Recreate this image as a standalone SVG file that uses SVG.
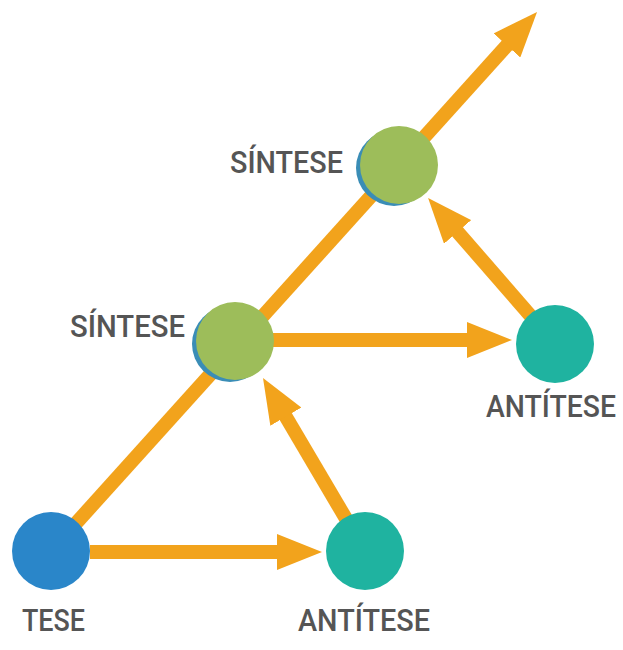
<svg xmlns="http://www.w3.org/2000/svg" width="623" height="650" viewBox="0 0 623 650">
  <style>
    .flow { stroke: #f2a31c; stroke-width: 14; fill: none; stroke-linecap: butt; }
    .label { font-family: "Roboto", "Liberation Sans", sans-serif; font-size: 32px; font-weight: 500; fill: #555555; }
    .tese { fill: #2a86c9; }
    .antitese { fill: #1fb3a0; }
    .sintese { fill: #9dbd5a; }
    .shade { fill: #3a8db6; }
  </style>
  <defs>
    <marker id="head" markerUnits="userSpaceOnUse" viewBox="0 0 45 36" markerWidth="45" markerHeight="36" refX="20" refY="18" orient="auto">
      <path d="M0,0 L45,18 L0,36 Z" fill="#f2a31c"/>
    </marker>
  </defs>

  <rect x="0" y="0" width="623" height="650" fill="#ffffff"/>

  <!-- connectors -->
  <g id="connectors">
    <!-- main progression line running up through each synthesis -->
    <line class="flow" x1="51" y1="551" x2="520.3" y2="30.6" marker-end="url(#head)"/>
    <!-- thesis to antithesis -->
    <line class="flow" x1="90" y1="552" x2="297" y2="552" marker-end="url(#head)"/>
    <!-- antithesis to synthesis -->
    <line class="flow" x1="365" y1="551" x2="275.7" y2="399.5" marker-end="url(#head)"/>
    <!-- synthesis to new antithesis -->
    <line class="flow" x1="234" y1="340" x2="487" y2="340" marker-end="url(#head)"/>
    <!-- new antithesis to new synthesis -->
    <line class="flow" x1="555" y1="344" x2="444.5" y2="216.8" marker-end="url(#head)"/>
  </g>

  <g id="tese">
    <circle class="tese" cx="51" cy="551" r="39"/>
    <text class="label" x="22" y="631" textLength="63" lengthAdjust="spacingAndGlyphs">TESE</text>
  </g>

  <g id="antitese-1">
    <circle class="antitese" cx="365" cy="551" r="39"/>
    <text class="label" x="298" y="631" textLength="132" lengthAdjust="spacingAndGlyphs">ANTÍTESE</text>
  </g>

  <g id="sintese-1">
    <circle class="shade" cx="230" cy="344" r="38"/>
    <circle class="sintese" cx="235" cy="341" r="39"/>
    <text class="label" x="70" y="337" textLength="115" lengthAdjust="spacingAndGlyphs">SÍNTESE</text>
  </g>

  <g id="antitese-2">
    <circle class="antitese" cx="555" cy="344" r="39"/>
    <text class="label" x="616" y="417" text-anchor="end" textLength="130" lengthAdjust="spacingAndGlyphs">ANTÍTESE</text>
  </g>

  <g id="sintese-2">
    <circle class="shade" cx="394" cy="168" r="38"/>
    <circle class="sintese" cx="399" cy="165" r="39"/>
    <text class="label" x="230" y="173" textLength="113" lengthAdjust="spacingAndGlyphs">SÍNTESE</text>
  </g>
</svg>
